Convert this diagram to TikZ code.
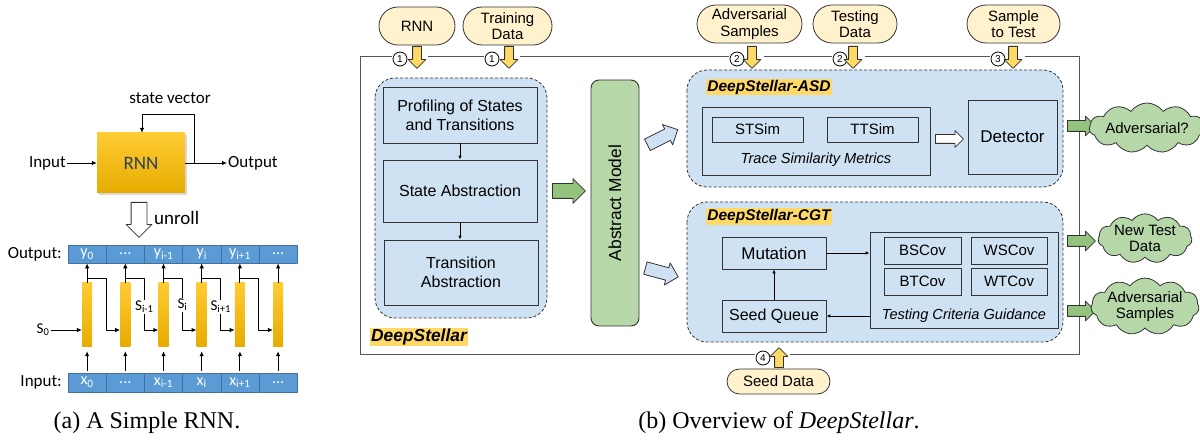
\documentclass[tikz,border=0pt]{standalone}
\usepackage{fontspec}
\setmainfont{Liberation Sans}
\newfontfamily\calib{Carlito}
\newfontfamily\tnr{Liberation Serif}
\usetikzlibrary{shapes.arrows,shapes.symbols,shapes.misc,arrows.meta,shadows,calc}
\definecolor{lblue}{HTML}{CFE2F3}
\definecolor{pillc}{HTML}{FFF2CC}
\definecolor{yarr}{HTML}{FFD966}
\definecolor{garr}{HTML}{93C47D}
\definecolor{gfill}{HTML}{B6D7A8}
\definecolor{hlc}{HTML}{FFD966}
\definecolor{barb}{HTML}{5B9BD5}
\definecolor{barbd}{HTML}{41719C}
\definecolor{goldt}{HTML}{FFCB33}
\definecolor{goldb}{HTML}{E6AC00}
\definecolor{edge}{HTML}{333333}
\definecolor{framec}{HTML}{555555}
\definecolor{rnntext}{HTML}{2F3E5B}
\def\mydots{...}
\tikzset{
  arr/.style={-{Latex[length=5pt,width=4.5pt]}, line width=0.9pt},
  sarr/.style={-{Latex[length=4pt,width=3.5pt]}, line width=0.7pt},
  atxt/.style={font=\calib\fontsize{17}{18}\selectfont, inner sep=1pt},
  rnnbox/.style={top color=goldt, bottom color=goldb, minimum width=88pt, minimum height=60pt, inner sep=0pt, font=\calib\fontsize{19}{20}\selectfont, text=rnntext, drop shadow={opacity=0.3, shadow xshift=2pt, shadow yshift=-2pt}},
  cell/.style={draw=barbd, fill=barb, line width=0.6pt, minimum width=38.2pt, inner sep=0pt, text=white, font=\calib\fontsize{16}{16}\selectfont},
  rbar/.style={top color=goldt, bottom color=goldb, minimum width=10pt, minimum height=64pt, inner sep=0pt},
  slab/.style={font=\calib\fontsize{15}{15}\selectfont, inner sep=1pt},
  box/.style={draw=edge, fill=lblue, line width=0.9pt, inner sep=0pt, align=center, font=\fontsize{16}{19}\selectfont},
  sbox/.style={box, font=\fontsize{15}{17}\selectfont},
  bbox/.style={box, font=\fontsize{17}{19}\selectfont},
  grp/.style={draw=edge, dash pattern=on 3pt off 2pt, fill=lblue, rounded corners=20pt, line width=0.8pt},
  pill/.style={rounded rectangle, draw=edge, fill=pillc, line width=0.8pt, align=center, inner sep=0pt, font=\fontsize{15}{16.5}\selectfont},
  num/.style={circle, draw=black, fill=white, minimum size=14pt, inner sep=0pt, font=\fontsize{10}{10}\selectfont, line width=0.8pt},
  blk/.style={single arrow, draw=edge, line width=0.8pt, inner sep=0pt, minimum width=0pt, single arrow head indent=0pt, anchor=tail},
  yarrow/.style={blk, fill=yarr, minimum height=22pt, inner ysep=4pt, single arrow head extend=4.5pt},
  garrow/.style={blk, fill=garr, minimum height=28pt, inner ysep=5pt, single arrow head extend=4.5pt},
  bgarrow/.style={blk, fill=garr, minimum height=33pt, inner ysep=7pt, single arrow head extend=5pt},
  barrow/.style={blk, fill=lblue, minimum height=34pt, inner ysep=6pt, single arrow head extend=5pt},
  warrow/.style={blk, fill=white, minimum height=28pt, inner ysep=4pt, single arrow head extend=4pt},
  hl/.style={fill=hlc, inner sep=1pt, font=\bfseries\itshape\fontsize{15.5}{16}\selectfont},
  cloudn/.style={cloud, cloud puffs=11, cloud puff arc=110, cloud ignores aspect, draw=edge, fill=gfill, line width=0.8pt, inner sep=0pt, align=center, font=\fontsize{15}{16.5}\selectfont},
  capt/.style={font=\tnr\fontsize{24}{26}\selectfont},
}
\begin{document}
\begin{tikzpicture}[x=1pt,y=-1pt,line join=round]
\useasboundingbox (0,0) rectangle (1200,443);
% ================= (a) =================
\node[rnnbox] (rnn) at (141,163) {RNN};
\node[atxt, anchor=east] (inp) at (67,163) {Input};
\node[atxt, anchor=west] (outp) at (227,163) {Output};
\node[atxt] (sv) at (170,98) {state vector};
\draw[arr] (inp) -- (rnn);
\coordinate (fb) at (194,163);
\coordinate (fbtop) at (142,114);
\draw[arr] (rnn.east) -- (outp.west);
\draw[arr] (fb) |- (fbtop) -- (fbtop |- rnn.north);
\node[blk, fill=white, minimum height=35pt, inner ysep=7.5pt, single arrow head extend=5pt, rotate=-90] (unr) at (139,202) {};
\node[atxt, font=\calib\fontsize{19}{20}\selectfont, anchor=west] (unrl) at (153,218) {unroll};
% cells
\foreach \k/\ylab/\xlab in {0/y\textsubscript{0}/x\textsubscript{0},1/\mydots/\mydots,2/y\textsubscript{i-1}/x\textsubscript{i-1},3/y\textsubscript{i}/x\textsubscript{i},4/y\textsubscript{i+1}/x\textsubscript{i+1},5/\mydots/\mydots}{
  \node[cell, minimum height=18pt] (o\k) at ({87.1+38.2*\k},254) {\ylab};
  \node[cell, minimum height=19pt] (i\k) at ({87.1+38.2*\k},382.5) {\xlab};
  \node[rbar] (r\k) at ({87.1+38.2*\k},315) {};
  \draw[arr, shorten <=2pt, shorten >=4pt] (i\k.north) -- (r\k.south);
  \draw[arr] (r\k.north) -- (o\k.south);
}
\node[atxt, anchor=east] (olab) at (63,254) {Output:};
\node[atxt, anchor=east] (ilab) at (63,382) {Input:};
\node[slab] (s0) at (43,330) {S\textsubscript{0}};
\draw[arr] (s0) -- (r0.west |- s0);
\draw[arr] (r0.north |- 0,278) -| ($(r0.north |- 0,278)+(19,0)$) |- (r1.west |- 0,330);
\draw[arr] (r4.north |- 0,278) -| ($(r4.north |- 0,278)+(19,0)$) |- (r5.west |- 0,330);
\node[slab] (sl1) at (144.3,307) {S\textsubscript{i-1}};
\node[slab] (sl2) at (182.5,305) {S\textsubscript{i}};
\node[slab] (sl3) at (220.7,307) {S\textsubscript{i+1}};
\foreach \k/\n in {1/2,2/3,3/4}{
  \draw[line width=0.9pt] (r\k.north |- 0,278) -| (sl\k.north);
  \draw[arr] (sl\k.south) |- (r\n.west |- 0,330);
}
\node[capt] (capa) at (147,423) {(a) A Simple RNN.};
% ================= (b) =================
\draw[framec, line width=1pt] (360,57) rectangle (1079,355);
\foreach \a/\b in {392/428,484/520,729/764,832/865,990/1025}{
  \fill[white] (\a,52) rectangle (\b,63);
}
\fill[white] (755,350) rectangle (790,361);
% pills
\node[pill, minimum width=76pt, minimum height=38pt] (pRNN) at (417,26) {RNN};
\node[pill, minimum width=89pt, minimum height=38pt] (pTrain) at (507.5,26) {Training\\Data};
\node[pill, minimum width=105pt, minimum height=38pt] (pAdv) at (749.5,24) {Adversarial\\Samples};
\node[pill, minimum width=84pt, minimum height=38pt] (pTest) at (855,24) {Testing\\Data};
\node[pill, minimum width=93pt, minimum height=38pt] (pSamp) at (1013.5,24) {Sample\\to Test};
\node[pill, minimum width=103pt, minimum height=25pt] (pSeed) at (778.5,381.5) {Seed Data};
% numbers and yellow arrows
\node[num] (n1a) at (400,59) {1};
\node[num] (n1b) at (492,59) {1};
\node[num] (n2a) at (737,59) {2};
\node[num] (n2b) at (840,59) {2};
\node[num] (n3) at (998,59) {3};
\node[num] (n4) at (763,358) {4};
\node[yarrow, rotate=-90] (y1a) at (417,46) {};
\node[yarrow, rotate=-90] (y1b) at (509,46) {};
\node[yarrow, rotate=-90] (y2a) at (752,46) {};
\node[yarrow, rotate=-90] (y2b) at (853,46) {};
\node[yarrow, rotate=-90] (y3) at (1013,46) {};
\node[yarrow, rotate=90, minimum height=20pt] (y4) at (779,368) {};
% left group
\draw[grp] (375,78) rectangle (547,318);
\node[box, minimum width=154pt, minimum height=56pt] (bProf) at (460,115) {Profiling of States\\and Transitions};
\node[box, minimum width=154pt, minimum height=62pt] (bState) at (460,191) {State Abstraction};
\node[box, minimum width=154pt, minimum height=65pt] (bTrans) at (461,272.5) {Transition\\Abstraction};
\draw[sarr] (bProf.south) -- (bProf.south |- bState.north);
\draw[sarr] (bState.south) -- (bState.south |- bTrans.north);
\node[hl, font=\bfseries\itshape\fontsize{17.4}{18}\selectfont] (lDS) at (419,337) {DeepStellar};
\node[bgarrow] (gArr) at (552,191) {};
\node[draw=edge, fill=gfill, line width=0.9pt, rounded corners=8pt, minimum width=48pt, minimum height=246pt, inner sep=0pt] (am) at (615,203) {};
\node[rotate=90, font=\fontsize{17.4}{18}\selectfont] (amt) at (am.center) {Abstract Model};
\node[barrow, rotate=26.6] (bA1) at (647,145) {};
\node[barrow, rotate=-15] (bA2) at (645,268) {};
% ASD group
\draw[grp] (687,70) rectangle (1063,187);
\node[hl] (lASD) at (769,87) {DeepStellar-ASD};
\node[box, minimum width=228pt, minimum height=68pt] (tsm) at (816,141) {};
\node[sbox, minimum width=91pt, minimum height=25pt] (st) at (757.5,129.5) {STSim};
\node[sbox, minimum width=91pt, minimum height=25pt] (tt) at (872.5,129.5) {TTSim};
\node[font=\itshape\fontsize{14.6}{16}\selectfont] (tsml) at (816,160) {Trace Similarity Metrics};
\node[warrow] (wA) at (935,139) {};
\node[bbox, minimum width=89pt, minimum height=74pt] (det) at (1012.5,137) {Detector};
% CGT group
\draw[grp] (687,202) rectangle (1063,342);
\node[hl] (lCGT) at (769,216.5) {DeepStellar-CGT};
\node[bbox, minimum width=104pt, minimum height=32pt] (mut) at (774,253) {Mutation};
\node[box, minimum width=104pt, minimum height=32pt] (sq) at (774,316) {Seed Queue};
\node[box, minimum width=188pt, minimum height=96pt] (tcg) at (964,280) {};
\node[sbox, minimum width=77pt, minimum height=27pt] (bs) at (922.5,250.5) {BSCov};
\node[sbox, minimum width=76pt, minimum height=27pt] (ws) at (1009,250.5) {WSCov};
\node[sbox, minimum width=77pt, minimum height=27pt] (bt) at (922.5,281.5) {BTCov};
\node[sbox, minimum width=76pt, minimum height=27pt] (wt) at (1009,281.5) {WTCov};
\node[font=\itshape\fontsize{14.6}{16}\selectfont] (tcgl) at (964,316) {Testing Criteria Guidance};
\draw[sarr] (mut.east) -- (mut.east -| tcg.west);
\draw[sarr] (tcg.west |- sq.east) -- (sq.east);
\draw[sarr] (sq.north) -- (mut.south);
% outputs
\node[garrow] (g1) at (1067,126) {};
\node[garrow] (g2) at (1067,241) {};
\node[garrow] (g3) at (1067,311) {};
\node[cloudn, minimum width=99pt, minimum height=50pt] (cAdv) at (1147,128) {Adversarial?};
\node[cloudn, minimum width=94pt, minimum height=45pt] (cNew) at (1145,238.5) {New Test\\Data};
\node[cloudn, minimum width=94pt, minimum height=47pt] (cAS) at (1145,306.5) {Adversarial\\Samples};
\node[capt] (capb) at (779,423) {(b) Overview of \textit{DeepStellar}.};
\end{tikzpicture}
\end{document}
